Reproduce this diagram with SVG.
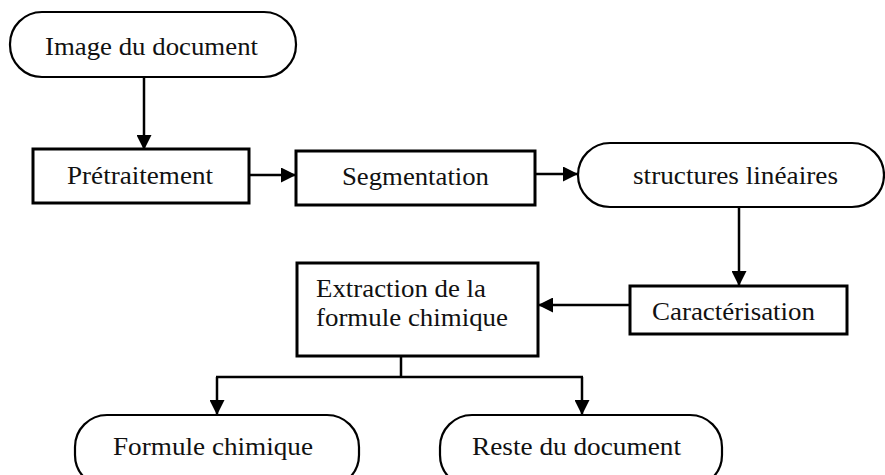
<svg xmlns="http://www.w3.org/2000/svg" width="885" height="475" viewBox="0 0 885 475">
<defs>
<style>
.box{fill:#fff;stroke:#000;stroke-width:3}
.term{fill:#fff;stroke:#000;stroke-width:2.2}
.t{font-family:'Liberation Serif','Times New Roman',Times,serif;font-size:26px;fill:#111}
.c{stroke:#000;stroke-width:2.5;fill:none}
</style>
<marker id="ah" markerUnits="userSpaceOnUse" markerWidth="15" markerHeight="15" refX="15" refY="7.5" orient="auto">
<path d="M0,0 L15,7.5 L0,15 z" fill="#000"/>
</marker>
</defs>
<rect width="885" height="475" fill="#fff"/>
<g id="connectors">
<path class="c" d="M144,77 V150" marker-end="url(#ah)"/>
<path class="c" d="M249,175 H296" marker-end="url(#ah)"/>
<path class="c" d="M535,174 H578" marker-end="url(#ah)"/>
<path class="c" d="M739,207 V286" marker-end="url(#ah)"/>
<path class="c" d="M630,305 H538" marker-end="url(#ah)"/>
<path class="c" d="M401,356 V377 M216,377 H583"/>
<path class="c" d="M217,377 V415" marker-end="url(#ah)"/>
<path class="c" d="M582,377 V415" marker-end="url(#ah)"/>
</g>
<g id="image-du-document">
<rect class="term" x="10" y="12" width="286" height="65" rx="32" ry="32"/>
<text class="t" x="45" y="55" textLength="213" lengthAdjust="spacingAndGlyphs">Image du document</text>
</g>
<g id="pretraitement">
<rect class="box" x="33" y="149" width="216" height="54"/>
<text class="t" x="67" y="184" textLength="146" lengthAdjust="spacingAndGlyphs">Prétraitement</text>
</g>
<g id="segmentation">
<rect class="box" x="296" y="151" width="239" height="54"/>
<text class="t" x="342" y="185" textLength="147" lengthAdjust="spacingAndGlyphs">Segmentation</text>
</g>
<g id="structures-lineaires">
<rect class="term" x="578" y="143" width="306" height="64" rx="32" ry="32"/>
<text class="t" x="633" y="184" textLength="205" lengthAdjust="spacingAndGlyphs">structures linéaires</text>
</g>
<g id="caracterisation">
<rect class="box" x="630" y="286" width="217" height="48"/>
<text class="t" x="652" y="320" textLength="163" lengthAdjust="spacingAndGlyphs">Caractérisation</text>
</g>
<g id="extraction">
<rect class="box" x="297" y="263" width="241" height="93"/>
<text class="t" x="316" y="297" textLength="170" lengthAdjust="spacingAndGlyphs">Extraction de la</text>
<text class="t" x="316" y="326" textLength="192" lengthAdjust="spacingAndGlyphs">formule chimique</text>
</g>
<g id="formule-chimique">
<rect class="term" x="75" y="415" width="284" height="72" rx="32" ry="32"/>
<text class="t" x="113" y="455" textLength="200" lengthAdjust="spacingAndGlyphs">Formule chimique</text>
</g>
<g id="reste-du-document">
<rect class="term" x="440" y="415" width="282" height="72" rx="32" ry="32"/>
<text class="t" x="472" y="455" textLength="209" lengthAdjust="spacingAndGlyphs">Reste du document</text>
</g>
</svg>
